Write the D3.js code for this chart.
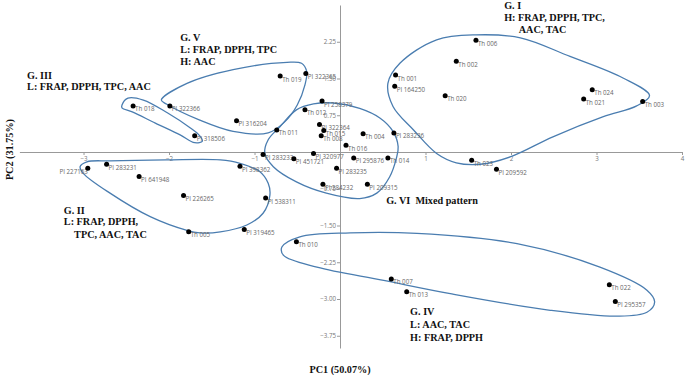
<!DOCTYPE html>
<html>
<head>
<meta charset="utf-8">
<script src="https://cdn.jsdelivr.net/npm/d3@7"></script>
<style>
  body { margin: 0; background: #fff; }
  .note { font-family: "Liberation Serif", "Times New Roman", serif; font-weight: bold; font-size: 10.2px; fill: #111; }
  .pt-label { font-family: "Open Sans", "Noto Sans", sans-serif; font-size: 6.2px; fill: #666; }
  .axis text { font-family: "Open Sans", "Noto Sans", sans-serif; font-size: 6.2px; fill: #777; }
  .axis path, .axis line { stroke: #999; }
</style>
</head>
<body>
<div id="chart"></div>
<script>
// accession names and their PCA scores
var names = ["PI 227163", "PI 283231", "PI 641948", "PI 226265", "Th 005",
    "PI 283233", "PI 451721", "PI 320977", "PI 295876", "Th 014", "PI 283235",
    "PI 284232", "PI 209315", "PI 398362", "PI 538311", "PI 319465", "Th 010",
    "Th 019", "PI 322365", "PI 258379", "Th 012", "PI 316204", "Th 011",
    "PI 322364", "Th 015", "Th 008", "Th 004", "PI 283236", "Th 016",
    "Th 001", "PI 164250", "Th 006", "Th 002", "Th 020", "Th 024", "Th 021",
    "Th 003", "Th 023", "PI 209592", "Th 018", "PI 322366", "PI 318506",
    "Th 007", "Th 013", "Th 022", "PI 295357"];
var pc1 = [-2.95, -2.73, -2.35, -1.83, -1.77,
    -0.90, -0.54, -0.31, 0.16, 0.56, -0.04,
    -0.20, 0.32, -1.17, -0.87, -1.12, -0.51,
    -0.70, -0.40, -0.21, -0.41, -1.21, -0.74,
    -0.24, -0.19, -0.22, 0.27, 0.63, 0.07,
    0.65, 0.64, 1.59, 1.36, 1.23, 2.95, 2.85,
    3.54, 1.54, 1.83, -2.42, -1.99, -1.70,
    0.60, 0.78, 3.15, 3.22];
var pc2 = [-0.33, -0.25, -0.50, -0.89, -1.63,
    -0.05, -0.14, -0.03, -0.12, -0.12, -0.33,
    -0.66, -0.66, -0.29, -0.94, -1.58, -1.83,
    1.55, 1.60, 1.04, 0.86, 0.64, 0.45,
    0.56, 0.44, 0.33, 0.37, 0.39, 0.14,
    1.57, 1.34, 2.28, 1.85, 1.15, 1.27, 1.08,
    1.03, -0.17, -0.35, 0.94, 0.94, 0.33,
    -2.59, -2.85, -2.71, -3.05];

var xTicks = [-3, -2, -1, 1, 2, 3, 4];
var yTicks = [-3.75, -3.00, -2.25, -1.50, -0.75, 0.75, 1.50, 2.25];

// group outlines, in PC units
var groupI = [[1.59, 2.39], [2.11, 2.33], [2.69, 1.95], [3.31, 1.51], [3.62, 1.15],
    [3.47, 0.94], [3.08, 0.72], [2.49, 0.31], [1.99, -0.10], [1.64, -0.25],
    [1.36, -0.22], [1.13, -0.03], [0.86, 0.45], [0.62, 0.93], [0.56, 1.40],
    [0.70, 1.81], [1.13, 2.29]];
var groupII = [[-3.04, -0.30], [-2.96, -0.20], [-2.69, -0.18], [-2.03, -0.16],
    [-1.40, -0.16], [-1.17, -0.23], [-0.94, -0.40], [-0.84, -0.64], [-0.82, -0.88],
    [-0.90, -1.25], [-1.09, -1.49], [-1.40, -1.63], [-1.64, -1.65], [-1.79, -1.60],
    [-2.22, -1.32], [-2.69, -0.84], [-3.00, -0.44]];
var groupIII = [[-2.55, 0.96], [-2.48, 1.10], [-2.30, 1.06], [-2.02, 0.80],
    [-1.75, 0.49], [-1.64, 0.33], [-1.61, 0.22], [-1.70, 0.19], [-1.87, 0.35],
    [-2.16, 0.59], [-2.43, 0.82], [-2.55, 0.90]];
var groupIV = [[-0.68, -1.94], [-0.47, -1.73], [0.12, -1.65], [0.90, -1.66],
    [2.07, -1.87], [3.04, -2.35], [3.59, -2.82], [3.68, -3.06], [3.59, -3.27],
    [3.24, -3.35], [2.46, -3.23], [1.29, -2.89], [0.51, -2.62], [-0.27, -2.35],
    [-0.66, -2.11]];
var groupV = [[-2.09, 1.06], [-1.79, 1.40], [-1.25, 1.68], [-0.62, 1.83],
    [-0.45, 1.81], [-0.39, 1.64], [-0.41, 1.37], [-0.50, 0.96], [-0.65, 0.61],
    [-0.84, 0.39], [-1.25, 0.42], [-1.64, 0.65], [-2.03, 0.98]];
var groupVI = [[-0.08, 1.00], [0.23, 0.89], [0.47, 0.69], [0.62, 0.42], [0.68, 0.11],
    [0.66, -0.12], [0.58, -0.51], [0.43, -0.84], [0.23, -0.95], [-0.16, -0.84],
    [-0.51, -0.61], [-0.78, -0.30], [-0.88, -0.03], [-0.84, 0.25], [-0.70, 0.52],
    [-0.51, 0.86], [-0.31, 0.98]];

// group descriptions: text line, then anchor in PC units
var notes = [
    ["G. I", 1.92, 2.92], ["H: FRAP, DPPH, TPC,", 1.92, 2.67], ["AAC, TAC", 2.09, 2.42],
    ["G. II", -3.23, -1.27], ["L: FRAP, DPPH,", -3.23, -1.49], ["TPC, AAC, TAC", -3.11, -1.76],
    ["G. III", -3.66, 1.50], ["L: FRAP, DPPH, TPC, AAC", -3.66, 1.27],
    ["G. IV", 0.82, -3.33], ["L: AAC, TAC", 0.82, -3.60], ["H: FRAP, DPPH", 0.82, -3.86],
    ["G. V", -1.87, 2.27], ["L: FRAP, DPPH, TPC", -1.87, 2.02], ["H: AAC", -1.87, 1.78],
    ["G. VI  Mixed pattern", 0.54, -1.06]
];

function init() {
    var w = 685, h = 375;

    var svg = d3.select("#chart").append("svg")
        .attr("width", w)
        .attr("height", h);

    var xScale = d3.scaleLinear().domain([-3.75, 4]).range([19.4, 682]);
    var yScale = d3.scaleLinear().domain([-4, 3]).range([348, 5]);

    // axes cross at the origin
    svg.append("g")
        .attr("class", "axis")
        .attr("transform", "translate(0," + yScale(0) + ")")
        .call(d3.axisBottom(xScale).tickValues(xTicks).tickFormat(d3.format("d"))
            .tickSize(3).tickPadding(2).tickSizeOuter(0));

    svg.append("g")
        .attr("class", "axis")
        .attr("transform", "translate(" + xScale(0) + ",0)")
        .call(d3.axisLeft(yScale).tickValues(yTicks).tickFormat(d3.format(".2f"))
            .tickSize(3).tickPadding(1).tickSizeOuter(0));

    // outlines round the groups
    var outline = d3.line()
        .x(function(d) { return xScale(d[0]); })
        .y(function(d) { return yScale(d[1]); })
        .curve(d3.curveCatmullRomClosed.alpha(0.5));

    [groupI, groupII, groupIII, groupIV, groupV, groupVI].forEach(function(g) {
        svg.append("path")
            .attr("d", outline(g))
            .attr("fill", "none")
            .attr("stroke", "#4a7db0")
            .attr("stroke-width", 1.3);
    });

    var points = names.map(function(n, i) { return { name: n, x: pc1[i], y: pc2[i] }; });

    svg.selectAll(".pt-label")
        .data(points)
        .enter().append("text")
        .attr("class", "pt-label")
        .attr("x", function(d) { return xScale(d.x) + (d.name === "PI 227163" ? 0 : 2); })
        .attr("y", function(d) { return yScale(d.y) + 5.5; })
        .attr("text-anchor", function(d) { return d.name === "PI 227163" ? "end" : "start"; })
        .text(function(d) { return d.name; });

    svg.selectAll(".pt")
        .data(points)
        .enter().append("circle")
        .attr("class", "pt")
        .attr("cx", function(d) { return xScale(d.x); })
        .attr("cy", function(d) { return yScale(d.y); })
        .attr("r", 2.5)
        .attr("fill", "#000");

    svg.selectAll(".note")
        .data(notes)
        .enter().append("text")
        .attr("class", "note")
        .attr("x", function(d) { return xScale(d[1]); })
        .attr("y", function(d) { return yScale(d[2]); })
        .attr("xml:space", "preserve")
        .style("white-space", "pre")
        .text(function(d) { return d[0]; });

    // axis titles
    svg.append("text")
        .attr("class", "note")
        .attr("x", xScale(0))
        .attr("y", 373)
        .attr("text-anchor", "middle")
        .text("PC1 (50.07%)");

    svg.append("text")
        .attr("class", "note")
        .attr("transform", "translate(13," + yScale(0.05) + ") rotate(-90)")
        .attr("text-anchor", "middle")
        .text("PC2 (31.75%)");
}

window.onload = init;
</script>
</body>
</html>
